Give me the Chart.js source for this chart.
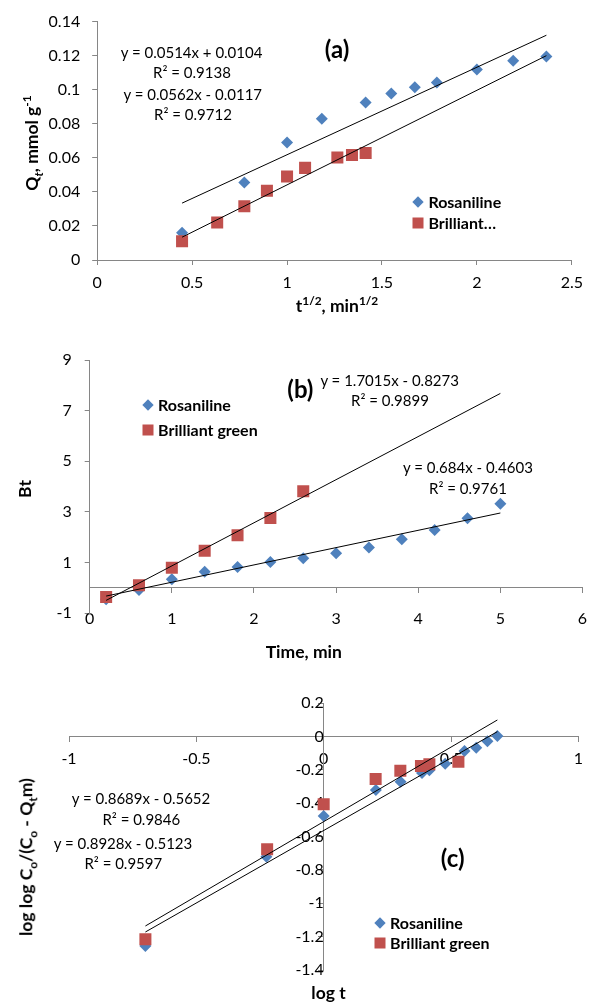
<!DOCTYPE html>
<html>
<head>
<meta charset="utf-8">
<script src="https://cdn.jsdelivr.net/npm/chart.js@4"></script>
<style>
  body { margin: 0; background: #fff; }
  #page { position: relative; width: 591px; height: 1002px; overflow: hidden; font-family: Lato, sans-serif; color: #000; }
  canvas { position: absolute; left: 0; }
  .lbl { position: absolute; transform: translate(-50%, -50%); white-space: nowrap; font-size: 15px; line-height: 1; }
  .ttl { font-weight: bold; font-size: 17.5px; }
  .tag { font-weight: bold; font-size: 24px; }
  .vt { transform: translate(-50%, -50%) rotate(-90deg); }
  .leg { position: absolute; font-weight: bold; font-size: 16px; white-space: nowrap; line-height: 1; transform: translateY(-50%); }
  .dia { position: absolute; width: 8px; height: 8px; background: #4F81BD; transform: translate(-50%, -50%) rotate(45deg); }
  .sq { position: absolute; width: 11px; height: 11px; background: #C0504D; transform: translate(-50%, -50%); }
  sub, sup { font-size: 68%; line-height: 0; }
</style>
</head>
<body>
<div id="page">
  <canvas id="ca" width="591" height="330" style="top:0"></canvas>
  <canvas id="cb" width="591" height="330" style="top:330px"></canvas>
  <canvas id="cc" width="591" height="342" style="top:660px"></canvas>
</div>
<script>
// ---- (a) Qt vs t^1/2 ----
const aRosX = [0.447, 0.775, 1.0, 1.183, 1.414, 1.549, 1.673, 1.789, 2.0, 2.191, 2.366];
const aRosY = [0.016, 0.0455, 0.069, 0.083, 0.0925, 0.0978, 0.1015, 0.1042, 0.1118, 0.117, 0.1195];
const aBgX = [0.447, 0.632, 0.775, 0.894, 1.0, 1.095, 1.265, 1.342, 1.414];
const aBgY = [0.011, 0.022, 0.0315, 0.0407, 0.0491, 0.0541, 0.0602, 0.0616, 0.0629];
const aFit1X = [0.447, 2.366], aFit1Y = [0.0334, 0.132];
const aFit2X = [0.447, 2.366], aFit2Y = [0.0134, 0.120];
const aXTicks = [0, 0.5, 1, 1.5, 2, 2.5];
const aXLabels = ['0', '0.5', '1', '1.5', '2', '2.5'];
const aYTicks = [0, 0.02, 0.04, 0.06, 0.08, 0.1, 0.12, 0.14];
const aYLabels = ['0', '0.02', '0.04', '0.06', '0.08', '0.1', '0.12', '0.14'];

// ---- (b) Bt vs time ----
const bRosX = [0.2, 0.6, 1.0, 1.4, 1.8, 2.2, 2.6, 3.0, 3.4, 3.8, 4.2, 4.6, 5.0];
const bRosY = [-0.45, -0.08, 0.34, 0.645, 0.83, 1.03, 1.17, 1.37, 1.6, 1.92, 2.29, 2.75, 3.32];
const bBgX = [0.2, 0.6, 1.0, 1.4, 1.8, 2.2, 2.6];
const bBgY = [-0.355, 0.105, 0.80, 1.47, 2.08, 2.76, 3.82];
const bFit1X = [0.2, 5.0], bFit1Y = [-0.49, 7.68];
const bFit2X = [0.2, 5.0], bFit2Y = [-0.32, 2.96];
const bXTicks = [0, 1, 2, 3, 4, 5, 6];
const bXLabels = ['0', '1', '2', '3', '4', '5', '6'];
const bYTicks = [-1, 1, 3, 5, 7, 9];
const bYLabels = ['-1', '1', '3', '5', '7', '9'];

// ---- (c) log log Co/(Co - Qt m) vs log t ----
const cRosX = [-0.7, -0.225, 0, 0.205, 0.302, 0.386, 0.415, 0.477, 0.553, 0.599, 0.643, 0.682];
const cRosY = [-1.256, -0.72, -0.476, -0.32, -0.27, -0.218, -0.202, -0.162, -0.086, -0.066, -0.028, 0.004];
const cBgX = [-0.7, -0.222, 0, 0.204, 0.301, 0.382, 0.415, 0.529];
const cBgY = [-1.216, -0.676, -0.406, -0.254, -0.204, -0.176, -0.166, -0.15];
const cFit1X = [-0.7, 0.682], cFit1Y = [-1.136, 0.100];
const cFit2X = [-0.7, 0.682], cFit2Y = [-1.172, 0.030];
const cXTicks = [-1, -0.5, 0, 0.5, 1];
const cXLabels = ['-1', '-0.5', '0', '0.5', '1'];
const cYTicks = [-1.4, -1.2, -1, -0.8, -0.6, -0.4, -0.2, 0, 0.2];
const cYLabels = ['-1.4', '-1.2', '-1', '-0.8', '-0.6', '-0.4', '-0.2', '0', '0.2'];

const BLUE = '#4F81BD', RED = '#C0504D', AXIS = '#868686';
const FONT = { family: 'Lato', size: 16 };

function pts(xs, ys) {
  return xs.map((x, i) => ({ x: x, y: ys[i] }));
}

function seriesSets(rosX, rosY, bgX, bgY, f1x, f1y, f2x, f2y) {
  return [
    { label: 'fit1', data: pts(f1x, f1y), showLine: true, borderColor: '#000', borderWidth: 1, pointRadius: 0, order: 0 },
    { label: 'fit2', data: pts(f2x, f2y), showLine: true, borderColor: '#000', borderWidth: 1, pointRadius: 0, order: 0 },
    { label: 'Brilliant green', data: pts(bgX, bgY), pointStyle: 'rect', pointRadius: 8.5, backgroundColor: RED, borderColor: RED, borderWidth: 0, order: 1 },
    { label: 'Rosaniline', data: pts(rosX, rosY), pointStyle: 'rectRot', pointRadius: 6, backgroundColor: BLUE, borderColor: BLUE, borderWidth: 0, order: 2 }
  ];
}

function axis(min, max, ticks, labels, extra) {
  const a = {
    type: 'linear', min: min, max: max,
    afterBuildTicks: s => { s.ticks = ticks.map(v => ({ value: v })); },
    ticks: { callback: (v, i) => labels[i], color: '#000', font: FONT, padding: 10, autoSkip: false, maxRotation: 0 },
    grid: { drawOnChartArea: false, drawTicks: true, tickLength: 5, color: AXIS, lineWidth: 1 },
    border: { display: true, color: AXIS, width: 1 }
  };
  for (const k in extra) {
    if (typeof extra[k] === 'object' && a[k] && !Array.isArray(extra[k])) a[k] = Object.assign({}, a[k], extra[k]);
    else a[k] = extra[k];
  }
  return a;
}

const common = {
  responsive: false,
  animation: false,
  plugins: { legend: { display: false }, tooltip: { enabled: false } }
};

// (a)
new Chart(document.getElementById('ca'), {
  type: 'scatter',
  data: { datasets: seriesSets(aRosX, aRosY, aBgX, aBgY, aFit1X, aFit1Y, aFit2X, aFit2Y) },
  options: Object.assign({}, common, {
    layout: { padding: { left: 0, right: 12.4, top: 16.7, bottom: 0 } },
    scales: {
      x: axis(0, 2.5, aXTicks, aXLabels, { position: 'bottom', afterFit: s => { s.height = 70; }, ticks: { padding: 8 } }),
      y: axis(0, 0.14, aYTicks, aYLabels, { position: 'left', afterFit: s => { s.width = 97.2; }, ticks: { padding: 12 } })
    }
  })
});

// (b)
new Chart(document.getElementById('cb'), {
  type: 'scatter',
  data: { datasets: seriesSets(bRosX, bRosY, bBgX, bBgY, bFit1X, bFit1Y, bFit2X, bFit2Y) },
  options: Object.assign({}, common, {
    layout: { padding: { left: 0, right: 5.6, top: 30, bottom: 0 } },
    scales: {
      x: axis(0, 6, bXTicks, bXLabels, {
        position: 'bottom', afterFit: s => { s.height = 46.7; },
        grid: { display: false }, border: { display: false }, ticks: { padding: -9 }
      }),
      x2: axis(0, 6, bXTicks, bXLabels, { position: { y: 0 }, ticks: { display: false } }),
      y: axis(-1, 9, bYTicks, bYLabels, { position: 'left', afterFit: s => { s.width = 89.7; }, ticks: { padding: 13 } })
    }
  })
});

// (c)
new Chart(document.getElementById('cc'), {
  type: 'scatter',
  data: { datasets: seriesSets(cRosX, cRosY, cBgX, cBgY, cFit1X, cFit1Y, cFit2X, cFit2Y) },
  options: Object.assign({}, common, {
    layout: { padding: { left: 69, right: 9.4, top: 43.3, bottom: 32 } },
    scales: {
      x: axis(-1, 1, cXTicks, cXLabels, { position: { y: 0 }, ticks: { padding: 8 } }),
      y: axis(-1.4, 0.2, cYTicks, cYLabels, { position: { x: 0 }, ticks: { padding: 11 } })
    }
  })
});

// text overlays: titles, equations, legends
const page = document.getElementById('page');
function label(html, x, y, cls) {
  const d = document.createElement('div');
  d.className = 'lbl ' + (cls || '');
  d.style.left = x + 'px';
  d.style.top = y + 'px';
  d.innerHTML = html;
  page.appendChild(d);
}
function legend(x, y1, y2, names) {
  const d1 = document.createElement('div');
  d1.className = 'dia'; d1.style.left = x + 'px'; d1.style.top = y1 + 'px';
  const d2 = document.createElement('div');
  d2.className = 'sq'; d2.style.left = x + 'px'; d2.style.top = y2 + 'px';
  page.appendChild(d1); page.appendChild(d2);
  [[names[0], y1], [names[1], y2]].forEach(([t, y]) => {
    const s = document.createElement('div');
    s.className = 'leg'; s.style.left = (x + 10) + 'px'; s.style.top = y + 'px';
    s.textContent = t;
    page.appendChild(s);
  });
}

// (a)
label('(a)', 337, 49, 'tag');
label('y = 0.0514x + 0.0104', 191.6, 52.3);
label('R² = 0.9138', 192, 71.7);
label('y = 0.0562x - 0.0117', 192.8, 94);
label('R² = 0.9712', 193, 114);
label('t<sup>1/2</sup>, min<sup>1/2</sup>', 337, 305.5, 'ttl');
label('Q<sub><i>t</i></sub>, mmol g<sup>-1</sup>', 32, 142.5, 'ttl vt');
legend(418.4, 201.7, 223.3, ['Rosaniline', 'Brilliant…']);

// (b)
label('(b)', 300.4, 389, 'tag');
label('y = 1.7015x - 0.8273', 389.7, 380);
label('R² = 0.9899', 390, 400);
label('y = 0.684x - 0.4603', 468, 466.7);
label('R² = 0.9761', 468, 487.7);
label('Time, min', 303.8, 651.7, 'ttl');
label('Bt', 24.5, 489.3, 'ttl vt');
legend(148.1, 405, 430, ['Rosaniline', 'Brilliant green']);

// (c)
label('(c)', 452.7, 857.5, 'tag');
label('y = 0.8689x - 0.5652', 141, 797.7);
label('R² = 0.9846', 141.3, 819.3);
label('y = 0.8928x - 0.5123', 123, 843.3);
label('R² = 0.9597', 123.3, 863.3);
label('log t', 328.5, 993.3, 'ttl');
label('log log C<sub>o</sub>/(C<sub>o</sub> - Q<sub>t</sub>m)', 25.6, 856.7, 'ttl vt');
legend(380, 923.3, 943.3, ['Rosaniline', 'Brilliant green']);
</script>
</body>
</html>
